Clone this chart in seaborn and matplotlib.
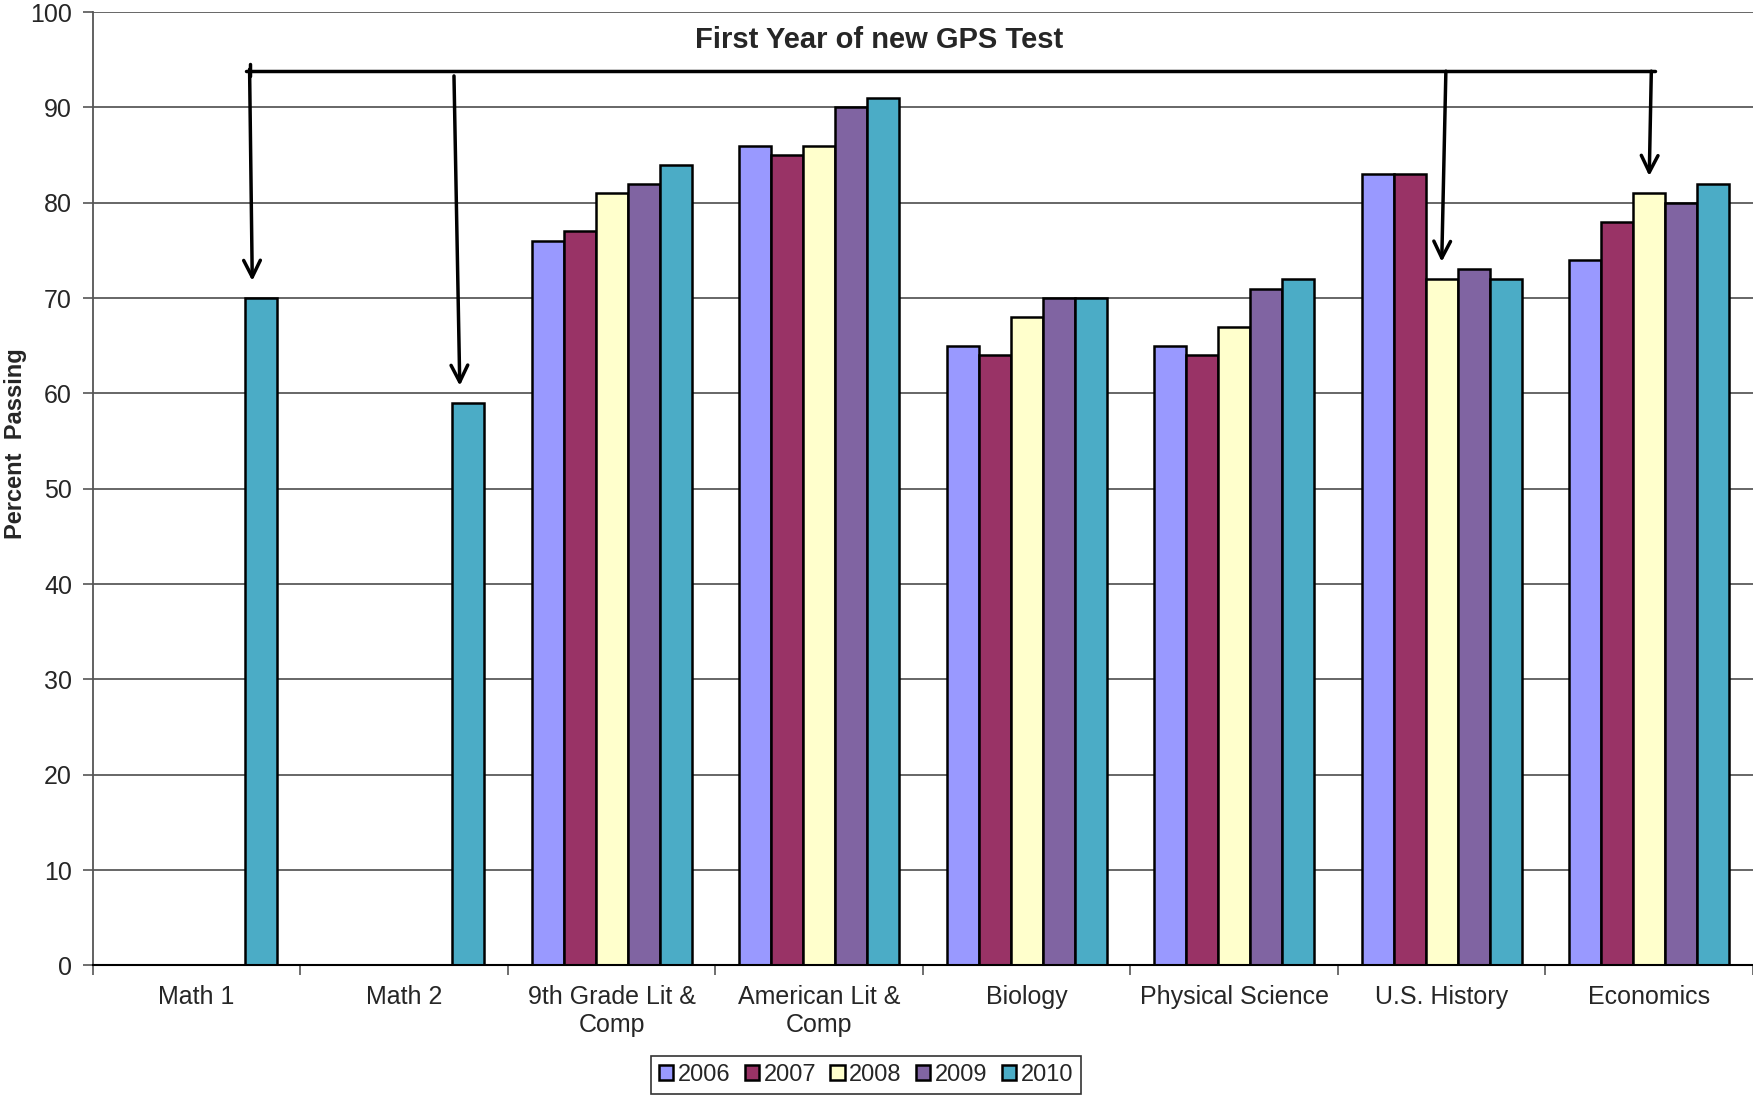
import numpy as np
import pandas as pd
import matplotlib
matplotlib.use("Agg")
import matplotlib.pyplot as plt
import seaborn as sns

# values
subjects = ["Math 1", "Math 2", "9th Grade Lit &\nComp", "American Lit &\nComp",
            "Biology", "Physical Science", "U.S. History", "Economics"]
years = ["2006", "2007", "2008", "2009", "2010"]
pass_2006 = [np.nan, np.nan, 76, 86, 65, 65, 83, 74]
pass_2007 = [np.nan, np.nan, 77, 85, 64, 64, 83, 78]
pass_2008 = [np.nan, np.nan, 81, 86, 68, 67, 72, 81]
pass_2009 = [np.nan, np.nan, 82, 90, 70, 71, 73, 80]
pass_2010 = [70, 59, 84, 91, 70, 72, 72, 82]
year_colors = ["#9999FF", "#993366", "#FFFFCC", "#8064A2", "#4BACC6"]

# first-year-of-GPS subjects get an arrow: (subject index, year index)
gps_first = [(0, 4), (1, 4), (6, 2), (7, 2)]

series = [pass_2006, pass_2007, pass_2008, pass_2009, pass_2010]
rows = []
for yr, vals in zip(years, series):
    for subj, v in zip(subjects, vals):
        rows.append({"Subject": subj, "Year": yr, "Percent": v})
df = pd.DataFrame(rows)

sns.set_style("white")
plt.rcParams['font.family'] = ['Liberation Sans', 'DejaVu Sans']

fig = plt.figure(figsize=(17.53, 10.97), dpi=100)
ax = fig.add_axes([0.053, 0.12, 0.947, 0.869])

sns.barplot(data=df, x="Subject", y="Percent", hue="Year", order=subjects,
            hue_order=years, palette=year_colors, width=0.77, dodge=True,
            saturation=1, edgecolor="black", linewidth=1.8, errorbar=None,
            ax=ax, legend=True)

ax.set_ylim(0, 100)
ax.set_xlim(-0.5, len(subjects) - 0.5)
ax.set_yticks(range(0, 101, 10))
ax.yaxis.grid(True, color="#4d4d4d", linewidth=1.2)
ax.set_axisbelow(True)
for side in ["top", "right"]:
    ax.spines[side].set_visible(False)
ax.spines["left"].set_color("#555555")
ax.spines["left"].set_linewidth(1.3)
ax.spines["bottom"].set_color("black")
ax.spines["bottom"].set_linewidth(1.5)

ax.tick_params(axis="y", labelsize=18, length=7, width=1.2, color="#555555",
               left=True, pad=8)
ax.tick_params(axis="x", which="major", labelsize=18, length=0, pad=14)
ax.set_xticks(np.arange(-0.5, len(subjects)), minor=True)
ax.tick_params(axis="x", which="minor", length=7, width=1.2, color="#555555",
               bottom=True)
ax.set_xlabel("")
ax.set_ylabel("Percent  Passing", fontsize=17, fontweight="bold")
ax.yaxis.set_label_coords(-0.040, 0.547)

# bracket line with arrows to the first year of the new test
offsets = (np.arange(len(years)) - 2) * 0.77 / len(years)
ax.plot([0.238, 7.03], [93.8, 93.8], color="black", lw=2.5, clip_on=False)
ax.plot([0.255, 0.255], [93.3, 94.6], color="black", lw=2.5)
starts = [(0.255, 94.0), (1.24, 93.3), (6.02, 93.8), (7.01, 93.8)]
for (si, yi), (sx, sy) in zip(gps_first, starts):
    tx = si + offsets[yi] - 0.04 * (si < 2)
    ty = series[yi][si] + 0.9
    ax.annotate("", xy=(tx, ty + 0.9), xytext=(sx, sy),
                arrowprops=dict(arrowstyle="->", lw=2.5, color="black",
                                mutation_scale=30, shrinkA=0, shrinkB=0))
ax.text(3.29, 97.1, "First Year of new GPS Test", ha="center", va="center",
        fontsize=21, fontweight="bold")

handles, labels = ax.get_legend_handles_labels()
ax.legend(handles, labels, ncol=5, loc="center", bbox_to_anchor=(0.494, 0.02),
          bbox_transform=fig.transFigure, fontsize=17, frameon=True,
          fancybox=False, edgecolor="black", handlelength=0.6,
          handleheight=0.6, handletextpad=0.2, columnspacing=0.6,
          borderpad=0.35)
ax.get_legend().get_frame().set_linewidth(1.2)

fig.savefig("out.png", dpi=100)
